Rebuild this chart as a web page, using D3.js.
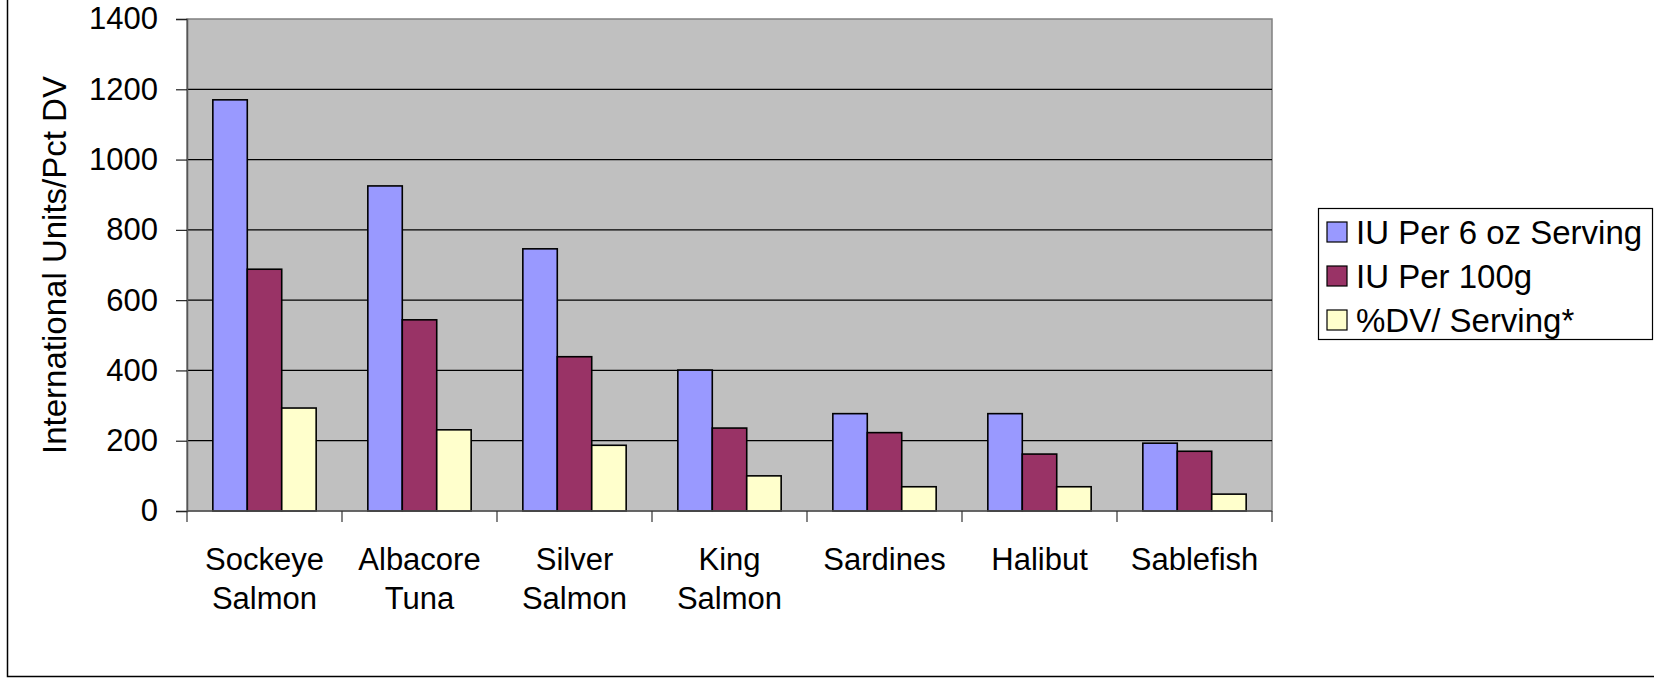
<!DOCTYPE html>
<html>
<head>
<meta charset="utf-8">
<script src="https://cdn.jsdelivr.net/npm/d3@7/dist/d3.min.js"></script>
<style>
  body { margin: 0; background: #fff; }
  text { font-family: "Liberation Sans", Arial, sans-serif; fill: #000; }
</style>
</head>
<body>
<svg></svg>
<script>
// chart data
var fish = [["Sockeye", "Salmon"], ["Albacore", "Tuna"], ["Silver", "Salmon"], ["King", "Salmon"], ["Sardines"], ["Halibut"], ["Sablefish"]];
var seriesNames = ["IU Per 6 oz Serving", "IU Per 100g", "%DV/ Serving*"];
var iuPerServing = [1170, 925, 746, 401, 277, 277, 193];
var iuPer100g = [688, 544, 439, 236, 223, 162, 170];
var pctDV = [293, 231, 187, 100, 69, 69, 48];
var yTicks = [0, 200, 400, 600, 800, 1000, 1200, 1400];

var seriesValues = [iuPerServing, iuPer100g, pctDV];
var colors = ["#9999FF", "#993366", "#FFFFCC"];

//Set Dimensions of svg
var width = 1654;
var height = 678;
var svg = d3.select('svg')
            .attr('width', width)
            .attr('height', height);

var plot = {left: 187, right: 1272, top: 19, bottom: 511};

// outer chart border
svg.append("rect")
   .attr("x", 7.5).attr("y", -2)
   .attr("width", width).attr("height", 678.5)
   .attr("fill", "none").attr("stroke", "#000").attr("stroke-width", 1.5);

var names = fish.map(d => d.join(" "));

var x0 = d3.scaleBand()
           .domain(names)
           .range([plot.left, plot.right])
           .padding(0);

var x1 = d3.scaleBand()
           .domain(d3.range(seriesNames.length))
           .range([0, x0.bandwidth()])
           .paddingInner(0)
           .paddingOuter(0.75);

var y = d3.scaleLinear()
          .domain([0, 1400])
          .range([plot.bottom, plot.top]);

// plot background
svg.append("rect")
   .attr("x", plot.left).attr("y", plot.top)
   .attr("width", plot.right - plot.left).attr("height", plot.bottom - plot.top)
   .attr("fill", "#C0C0C0")
   .attr("stroke", "#808080").attr("stroke-width", 1.5);

// gridlines
svg.append("g")
   .selectAll("line")
   .data(yTicks.filter(d => d > 0 && d < 1400))
   .enter()
   .append("line")
   .attr("x1", plot.left).attr("x2", plot.right)
   .attr("y1", d => y(d)).attr("y2", d => y(d))
   .attr("stroke", "#000").attr("stroke-width", 1.2);

// bars
var rows = names.map((n, i) => ({name: n, vals: seriesValues.map(s => s[i])}));

svg.append("g")
   .selectAll("g")
   .data(rows)
   .enter()
   .append("g")
   .attr("transform", d => "translate(" + x0(d.name) + ",0)")
   .selectAll("rect")
   .data(d => d.vals.map((v, k) => ({k: k, v: v})))
   .enter()
   .append("rect")
   .attr("x", d => x1(d.k))
   .attr("width", x1.bandwidth())
   .attr("y", d => y(d.v))
   .attr("height", d => y(0) - y(d.v))
   .attr("fill", d => colors[d.k])
   .attr("stroke", "#000")
   .attr("stroke-width", 1.6);

// y axis
var yAxis = svg.append("g")
   .attr("transform", "translate(" + plot.left + ",0)")
   .call(d3.axisLeft(y).tickValues(yTicks).tickFormat(d3.format("d")).tickSize(11).tickPadding(18));
yAxis.select(".domain").attr("stroke", "#555").attr("stroke-width", 1.5);
yAxis.selectAll(".tick line").attr("stroke", "#222").attr("stroke-width", 1.2);
yAxis.selectAll("text")
     .style("font-size", "31px")
     .style("font-family", "Liberation Sans, Arial, sans-serif")
     .attr("fill", "#000");

// x axis with ticks at category boundaries
var xAxis = svg.append("g")
   .attr("transform", "translate(0," + plot.bottom + ")");
xAxis.append("line")
     .attr("x1", plot.left).attr("x2", plot.right)
     .attr("stroke", "#555").attr("stroke-width", 1.5);
xAxis.selectAll(".bt")
     .data(names.concat(["end"]))
     .enter()
     .append("line")
     .attr("x1", (d, i) => i < names.length ? x0(d) : plot.right)
     .attr("x2", (d, i) => i < names.length ? x0(d) : plot.right)
     .attr("y1", 0).attr("y2", 11)
     .attr("stroke", "#333").attr("stroke-width", 1.2);

var labels = xAxis.selectAll(".lbl")
     .data(fish)
     .enter()
     .append("text")
     .attr("text-anchor", "middle")
     .attr("x", (d, i) => x0(names[i]) + x0.bandwidth() / 2)
     .attr("y", 59)
     .style("font-size", "31px");
labels.selectAll("tspan")
      .data(d => d)
      .enter()
      .append("tspan")
      .attr("x", function() { return d3.select(this.parentNode).attr("x"); })
      .attr("dy", (d, i) => i === 0 ? 0 : 39)
      .text(d => d);

// y axis title
svg.append("text")
   .attr("transform", "translate(66," + ((plot.top + plot.bottom) / 2) + ") rotate(-90)")
   .attr("text-anchor", "middle")
   .style("font-size", "33px")
   .text("International Units/Pct DV");

// legend
var legend = svg.append("g").attr("transform", "translate(1318,208)");
legend.append("rect")
      .attr("x", 0.5).attr("y", 0.5)
      .attr("width", 334).attr("height", 131)
      .attr("fill", "#fff").attr("stroke", "#000").attr("stroke-width", 1.2);
var items = legend.selectAll(".item")
      .data(seriesNames)
      .enter()
      .append("g")
      .attr("transform", (d, i) => "translate(9," + (24 + i * 44) + ")");
items.append("rect")
     .attr("x", 0).attr("y", -10)
     .attr("width", 20).attr("height", 20)
     .attr("fill", (d, i) => colors[i])
     .attr("stroke", "#000").attr("stroke-width", 1.2);
items.append("text")
     .attr("x", 29).attr("y", 12)
     .style("font-size", "33px")
     .text(d => d);
</script>
</body>
</html>
